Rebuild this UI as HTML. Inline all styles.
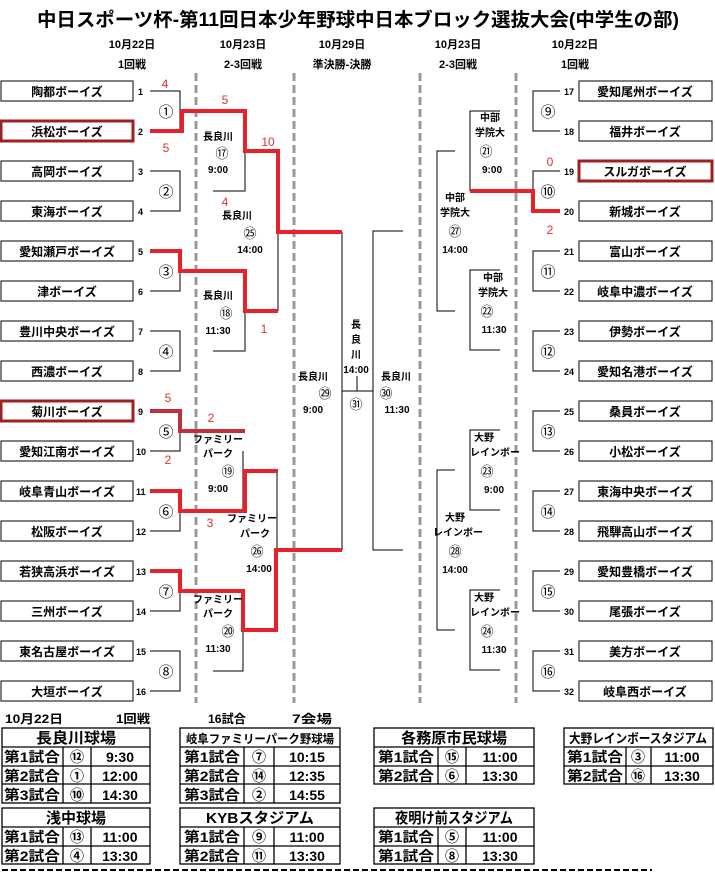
<!DOCTYPE html>
<html><head><meta charset="utf-8">
<style>
html,body{margin:0;padding:0;background:#fff;}
svg{display:block;font-family:"Liberation Sans","Noto Sans CJK JP",sans-serif;font-weight:bold;}
</style></head><body>
<svg width="715" height="873" viewBox="0 0 715 873" xmlns="http://www.w3.org/2000/svg">
<rect width="715" height="873" fill="#fff"/>
<text x="358" y="26" font-size="19" text-anchor="middle" textLength="642" lengthAdjust="spacingAndGlyphs">中日スポーツ杯-第11回日本少年野球中日本ブロック選抜大会(中学生の部)</text>
<g font-size="11" text-anchor="middle">
<text x="132" y="48">10月22日</text><text x="243" y="48">10月23日</text><text x="342" y="48">10月29日</text><text x="458" y="48">10月23日</text><text x="575" y="48">10月22日</text>
<text x="132" y="68">1回戦</text><text x="243" y="68">2-3回戦</text><text x="342" y="68">準決勝-決勝</text><text x="458" y="68">2-3回戦</text><text x="575" y="68">1回戦</text>
</g>
<g stroke="#999" stroke-width="3" stroke-dasharray="8,4">
<line x1="196" y1="73" x2="196" y2="703"/><line x1="294" y1="73" x2="294" y2="703"/><line x1="420" y1="73" x2="420" y2="703"/><line x1="516" y1="73" x2="516" y2="703"/>
</g>
<g fill="#fff" stroke="#000" stroke-width="1">
<rect x="1" y="81" width="132" height="20"/><rect x="1" y="161" width="132" height="20"/><rect x="1" y="201" width="132" height="20"/><rect x="1" y="241" width="132" height="20"/><rect x="1" y="281" width="132" height="20"/><rect x="1" y="321" width="132" height="20"/><rect x="1" y="361" width="132" height="20"/><rect x="1" y="441" width="132" height="20"/><rect x="1" y="481" width="132" height="20"/><rect x="1" y="521" width="132" height="20"/><rect x="1" y="561" width="132" height="20"/><rect x="1" y="601" width="132" height="20"/><rect x="1" y="641" width="132" height="20"/><rect x="1" y="681" width="132" height="20"/>
<rect x="579" y="81" width="133" height="20"/><rect x="579" y="121" width="133" height="20"/><rect x="579" y="201" width="133" height="20"/><rect x="579" y="241" width="133" height="20"/><rect x="579" y="281" width="133" height="20"/><rect x="579" y="321" width="133" height="20"/><rect x="579" y="361" width="133" height="20"/><rect x="579" y="401" width="133" height="20"/><rect x="579" y="441" width="133" height="20"/><rect x="579" y="481" width="133" height="20"/><rect x="579" y="521" width="133" height="20"/><rect x="579" y="561" width="133" height="20"/><rect x="579" y="601" width="133" height="20"/><rect x="579" y="641" width="133" height="20"/><rect x="579" y="681" width="133" height="20"/>
</g>
<g fill="#fff" stroke="#a02020" stroke-width="3">
<rect x="1" y="121" width="132" height="20"/><rect x="1" y="401" width="132" height="20"/><rect x="579" y="161" width="133" height="20"/>
</g>
<g font-size="12" text-anchor="middle">
<text x="67" y="96">陶都ボーイズ</text><text x="67" y="136">浜松ボーイズ</text><text x="67" y="176">高岡ボーイズ</text><text x="67" y="216">東海ボーイズ</text><text x="67" y="256">愛知瀬戸ボーイズ</text><text x="67" y="296">津ボーイズ</text><text x="67" y="336">豊川中央ボーイズ</text><text x="67" y="376">西濃ボーイズ</text><text x="67" y="416">菊川ボーイズ</text><text x="67" y="456">愛知江南ボーイズ</text><text x="67" y="496">岐阜青山ボーイズ</text><text x="67" y="536">松阪ボーイズ</text><text x="67" y="576">若狭高浜ボーイズ</text><text x="67" y="616">三州ボーイズ</text><text x="67" y="656">東名古屋ボーイズ</text><text x="67" y="696">大垣ボーイズ</text>
<text x="645" y="96">愛知尾州ボーイズ</text><text x="645" y="136">福井ボーイズ</text><text x="645" y="176">スルガボーイズ</text><text x="645" y="216">新城ボーイズ</text><text x="645" y="256">富山ボーイズ</text><text x="645" y="296">岐阜中濃ボーイズ</text><text x="645" y="336">伊勢ボーイズ</text><text x="645" y="376">愛知名港ボーイズ</text><text x="645" y="416">桑員ボーイズ</text><text x="645" y="456">小松ボーイズ</text><text x="645" y="496">東海中央ボーイズ</text><text x="645" y="536">飛騨高山ボーイズ</text><text x="645" y="576">愛知豊橋ボーイズ</text><text x="645" y="616">尾張ボーイズ</text><text x="645" y="656">美方ボーイズ</text><text x="645" y="696">岐阜西ボーイズ</text>
</g>
<g font-size="9">
<text x="138" y="95">1</text><text x="138" y="135">2</text><text x="138" y="175">3</text><text x="138" y="215">4</text><text x="138" y="255">5</text><text x="138" y="295">6</text><text x="138" y="335">7</text><text x="138" y="375">8</text><text x="138" y="415">9</text><text x="136" y="455">10</text><text x="136" y="495">11</text><text x="136" y="535">12</text><text x="136" y="575">13</text><text x="136" y="615">14</text><text x="136" y="655">15</text><text x="136" y="695">16</text>
<text x="564" y="95">17</text><text x="564" y="135">18</text><text x="564" y="175">19</text><text x="564" y="215">20</text><text x="564" y="255">21</text><text x="564" y="295">22</text><text x="564" y="335">23</text><text x="564" y="375">24</text><text x="564" y="415">25</text><text x="564" y="455">26</text><text x="564" y="495">27</text><text x="564" y="535">28</text><text x="564" y="575">29</text><text x="564" y="615">30</text><text x="564" y="655">31</text><text x="564" y="695">32</text>
</g>
<g fill="none" stroke="#000" stroke-width="1">
<path d="M150 91H180V131"/><path d="M150 171H180V211H150"/><path d="M150 291H180V271"/><path d="M150 331H180V371H150"/><path d="M150 451H180V431"/><path d="M150 531H180V511"/><path d="M150 611H180V591"/><path d="M150 651H180V691H150"/>
<path d="M245 151V191H213"/><path d="M245 271V351H213"/><path d="M278 231V311"/><path d="M243 451V511"/><path d="M277 471V550"/><path d="M243 630V671H213"/>
<path d="M342 232V550"/><path d="M342 391H373"/><path d="M357 391V376"/><path d="M403 231H373V550H403"/>
<path d="M560 91H533V131H560"/><path d="M560 171H533V191"/><path d="M560 251H533V291H560"/><path d="M560 331H533V371H560"/><path d="M560 411H533V451H560"/><path d="M560 491H533V531H560"/><path d="M560 571H533V611H560"/><path d="M560 651H533V691H560"/>
<path d="M500 111H470V191"/><path d="M455 151H437V311H455"/><path d="M500 270H470V350H500"/><path d="M500 430H470V510H500"/><path d="M455 470H437V630H455"/><path d="M500 590H470V670H500"/>
</g>
<g fill="none" stroke="#e8222a" stroke-width="4" stroke-linejoin="miter">
<path d="M150 131H182V111H245V151H278V232H342"/>
<path d="M150 251H180V271H245V311H278"/>
<path d="M150 491H180V511H245V471H278"/>
<path d="M150 571H180V591H243V630H276V550H342"/>
<path d="M560 211H533V191H470"/>
</g>
<path d="M150 411H180V431H245" fill="none" stroke="#c0303a" stroke-width="4"/>
<g fill="#e03030" font-size="12" font-weight="normal" text-anchor="middle">
<text x="165" y="88">4</text><text x="166" y="152">5</text><text x="225" y="104">5</text><text x="268" y="146">10</text><text x="225" y="206">4</text><text x="264" y="333">1</text><text x="168" y="402">5</text><text x="211" y="422">2</text><text x="168" y="464">2</text><text x="210" y="527">3</text><text x="550" y="166">0</text><text x="550" y="234">2</text>
</g>
<g font-size="15" font-weight="normal" text-anchor="middle">
<text x="166" y="117">①</text><text x="166" y="197">②</text><text x="166" y="277">③</text><text x="166" y="357">④</text><text x="166" y="437">⑤</text><text x="166" y="517">⑥</text><text x="166" y="597">⑦</text><text x="166" y="677">⑧</text>
<text x="548" y="117">⑨</text><text x="548" y="197">⑩</text><text x="548" y="277">⑪</text><text x="548" y="357">⑫</text><text x="548" y="437">⑬</text><text x="548" y="517">⑭</text><text x="548" y="597">⑮</text><text x="548" y="677">⑯</text>
</g>
<g font-size="10" text-anchor="middle">
<text x="218" y="140">長良川</text><text x="222" y="158" font-size="13" font-weight="normal">⑰</text><text x="218" y="173">9:00</text>
<text x="237" y="219">長良川</text><text x="250" y="238" font-size="13" font-weight="normal">㉕</text><text x="250" y="253">14:00</text>
<text x="218" y="299">長良川</text><text x="226" y="318" font-size="13" font-weight="normal">⑱</text><text x="218" y="334">11:30</text>
<text x="313" y="380">長良川</text><text x="325" y="398" font-size="13" font-weight="normal">㉙</text><text x="313" y="413">9:00</text>
<text x="356" y="328">長</text><text x="356" y="343">良</text><text x="356" y="358">川</text><text x="356" y="373">14:00</text><text x="356" y="409" font-size="13" font-weight="normal">㉛</text>
<text x="396" y="380">長良川</text><text x="386" y="398" font-size="13" font-weight="normal">㉚</text><text x="397" y="413">11:30</text>
<text x="218" y="443">ファミリー</text><text x="218" y="457">パーク</text><text x="228" y="476" font-size="13" font-weight="normal">⑲</text><text x="218" y="492">9:00</text>
<text x="252" y="522">ファミリー</text><text x="255" y="537">パーク</text><text x="257" y="556" font-size="13" font-weight="normal">㉖</text><text x="259" y="572">14:00</text>
<text x="218" y="603">ファミリー</text><text x="218" y="617">パーク</text><text x="228" y="636" font-size="13" font-weight="normal">⑳</text><text x="218" y="652">11:30</text>
<text x="490" y="121">中部</text><text x="490" y="136">学院大</text><text x="486" y="156" font-size="13" font-weight="normal">㉑</text><text x="492" y="173">9:00</text>
<text x="455" y="201">中部</text><text x="455" y="216">学院大</text><text x="455" y="236" font-size="13" font-weight="normal">㉗</text><text x="455" y="253">14:00</text>
<text x="493" y="281">中部</text><text x="493" y="296">学院大</text><text x="487" y="316" font-size="13" font-weight="normal">㉒</text><text x="494" y="333">11:30</text>
<text x="484" y="441">大野</text><text x="495" y="456">レインボー</text><text x="487" y="476" font-size="13" font-weight="normal">㉓</text><text x="494" y="493">9:00</text>
<text x="455" y="521">大野</text><text x="458" y="536">レインボー</text><text x="455" y="556" font-size="13" font-weight="normal">㉘</text><text x="455" y="573">14:00</text>
<text x="484" y="601">大野</text><text x="495" y="616">レインボー</text><text x="487" y="636" font-size="13" font-weight="normal">㉔</text><text x="494" y="653">11:30</text>
</g>
<g font-size="12">
<text x="5" y="723" textLength="58" lengthAdjust="spacingAndGlyphs">10月22日</text><text x="116" y="723" textLength="34" lengthAdjust="spacingAndGlyphs">1回戦</text><text x="208" y="723" textLength="38" lengthAdjust="spacingAndGlyphs">16試合</text><text x="292" y="723" textLength="40" lengthAdjust="spacingAndGlyphs">7会場</text>
</g>
<g fill="none" stroke="#000" stroke-width="1.3">
<rect x="2" y="728" width="148" height="75"/><path d="M2 747H150M2 766H150M2 784H150M63 747V803M91 747V803"/>
<rect x="180" y="728" width="160" height="75"/><path d="M180 747H340M180 766H340M180 784H340M244 747V803M274 747V803"/>
<rect x="374" y="728" width="160" height="56"/><path d="M374 747H534M374 766H534M438 747V784M466 747V784"/>
<rect x="564" y="728" width="149" height="56"/><path d="M564 747H713M564 766H713M626 747V784M651 747V784"/>
<rect x="2" y="808" width="148" height="56"/><path d="M2 827H150M2 846H150M63 827V864M91 827V864"/>
<rect x="180" y="808" width="160" height="56"/><path d="M180 827H340M180 846H340M244 827V864M274 827V864"/>
<rect x="374" y="808" width="160" height="56"/><path d="M374 827H534M374 846H534M438 827V864M466 827V864"/>
</g>
<g font-size="15" text-anchor="middle">
<text x="76" y="743" textLength="80" lengthAdjust="spacingAndGlyphs">長良川球場</text><text x="260" y="743" font-size="12" textLength="148" lengthAdjust="spacingAndGlyphs">岐阜ファミリーパーク野球場</text><text x="454" y="743" textLength="106" lengthAdjust="spacingAndGlyphs">各務原市民球場</text><text x="638" y="743" font-size="13" textLength="138" lengthAdjust="spacingAndGlyphs">大野レインボースタジアム</text>
<text x="76" y="823" textLength="60" lengthAdjust="spacingAndGlyphs">浅中球場</text><text x="260" y="823" textLength="108" lengthAdjust="spacingAndGlyphs">KYBスタジアム</text><text x="454" y="823" textLength="118" lengthAdjust="spacingAndGlyphs">夜明け前スタジアム</text>
</g>
<g font-size="14" text-anchor="middle">
<text x="32" y="762" textLength="56" lengthAdjust="spacingAndGlyphs">第1試合</text><text x="77" y="762">⑫</text><text x="120" y="762">9:30</text>
<text x="32" y="781" textLength="56" lengthAdjust="spacingAndGlyphs">第2試合</text><text x="77" y="781">①</text><text x="120" y="781">12:00</text>
<text x="32" y="800" textLength="56" lengthAdjust="spacingAndGlyphs">第3試合</text><text x="77" y="800">⑩</text><text x="120" y="800">14:30</text>
<text x="212" y="762" textLength="56" lengthAdjust="spacingAndGlyphs">第1試合</text><text x="259" y="762">⑦</text><text x="307" y="762">10:15</text>
<text x="212" y="781" textLength="56" lengthAdjust="spacingAndGlyphs">第2試合</text><text x="259" y="781">⑭</text><text x="307" y="781">12:35</text>
<text x="212" y="800" textLength="56" lengthAdjust="spacingAndGlyphs">第3試合</text><text x="259" y="800">②</text><text x="307" y="800">14:55</text>
<text x="406" y="762" textLength="56" lengthAdjust="spacingAndGlyphs">第1試合</text><text x="452" y="762">⑮</text><text x="500" y="762">11:00</text>
<text x="406" y="781" textLength="56" lengthAdjust="spacingAndGlyphs">第2試合</text><text x="452" y="781">⑥</text><text x="500" y="781">13:30</text>
<text x="595" y="762" textLength="56" lengthAdjust="spacingAndGlyphs">第1試合</text><text x="638" y="762">③</text><text x="682" y="762">11:00</text>
<text x="595" y="781" textLength="56" lengthAdjust="spacingAndGlyphs">第2試合</text><text x="638" y="781">⑯</text><text x="682" y="781">13:30</text>
<text x="32" y="842" textLength="56" lengthAdjust="spacingAndGlyphs">第1試合</text><text x="77" y="842">⑬</text><text x="120" y="842">11:00</text>
<text x="32" y="861" textLength="56" lengthAdjust="spacingAndGlyphs">第2試合</text><text x="77" y="861">④</text><text x="120" y="861">13:30</text>
<text x="212" y="842" textLength="56" lengthAdjust="spacingAndGlyphs">第1試合</text><text x="259" y="842">⑨</text><text x="307" y="842">11:00</text>
<text x="212" y="861" textLength="56" lengthAdjust="spacingAndGlyphs">第2試合</text><text x="259" y="861">⑪</text><text x="307" y="861">13:30</text>
<text x="406" y="842" textLength="56" lengthAdjust="spacingAndGlyphs">第1試合</text><text x="452" y="842">⑤</text><text x="500" y="842">11:00</text>
<text x="406" y="861" textLength="56" lengthAdjust="spacingAndGlyphs">第1試合</text><text x="452" y="861">⑧</text><text x="500" y="861">13:30</text>
</g>
<line x1="2" y1="870" x2="652" y2="870" stroke="#000" stroke-width="2" stroke-dasharray="6,3"/>
</svg>
</body></html>
